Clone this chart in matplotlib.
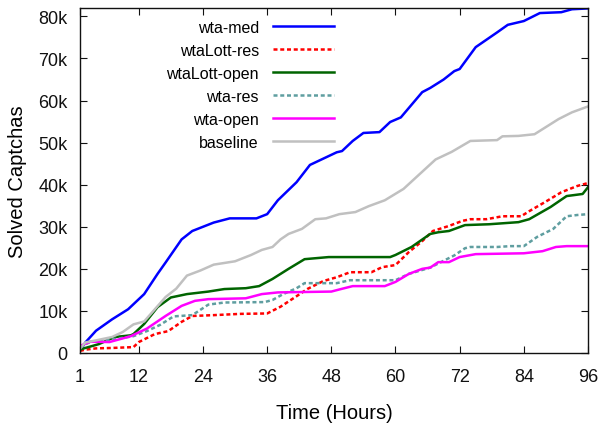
import matplotlib
matplotlib.use("Agg")
import matplotlib.pyplot as plt
from matplotlib.ticker import FuncFormatter

plt.rcParams["font.family"] = ["Liberation Sans", "DejaVu Sans"]

# Cumulative solved captchas (thousands) per strategy, sampled at hour marks
wta_med_h = [1, 2, 4, 7, 10, 13, 15.5, 17, 20, 22, 26, 29, 34, 36, 38, 41.5, 44, 45.5,
             49, 50, 52, 54, 57, 59, 61, 65, 66.5, 69, 71, 72, 75, 79, 81, 84, 87, 91, 93, 96]
wta_med_k = [0.5, 2.5, 5.3, 8.0, 10.4, 14.0, 18.8, 21.5, 27.0, 29.0, 31.0, 32.0, 32.0, 33.0,
             36.3, 40.6, 44.7, 45.6, 47.7, 48.0, 50.4, 52.3, 52.5, 54.9, 56.0, 62.0, 63.0,
             65.0, 67.0, 67.5, 72.7, 76.2, 78.0, 78.9, 80.8, 81.0, 81.7, 81.9]

wtalott_res_h = [1, 2, 4, 7, 11, 12, 15, 17.5, 20, 22, 26, 31, 36, 38.5, 41.5, 43.5, 46.5,
                 49, 51.5, 55.5, 57.5, 60, 62.5, 65, 67, 70, 72.5, 74, 77, 80, 83.5, 85,
                 88, 91, 94, 96]
wtalott_res_k = [0.5, 0.8, 1.1, 1.2, 1.4, 2.6, 4.5, 5.2, 7.4, 8.8, 9.0, 9.3, 9.4, 11.0,
                 13.5, 15.2, 17.1, 18.0, 19.2, 19.2, 20.4, 20.9, 24.0, 26.6, 29.0, 30.2,
                 31.4, 31.8, 31.8, 32.5, 32.5, 33.7, 35.9, 38.2, 39.7, 40.4]

wtalott_open_h = [1, 2, 4.5, 7.5, 10.5, 11, 13, 15.5, 18, 21, 25, 28, 32, 34.5, 37, 40,
                  43, 47.5, 59, 60, 63, 66.5, 68, 70, 73, 77.5, 83, 85, 89, 92, 95, 96]
wtalott_open_k = [0.8, 1.2, 2.1, 3.8, 4.2, 4.5, 6.9, 10.9, 13.2, 14.0, 14.6, 15.2, 15.4,
                  15.9, 17.6, 20.0, 22.3, 22.8, 22.8, 23.3, 25.2, 28.3, 28.7, 29.0, 30.4,
                  30.6, 31.1, 31.8, 34.7, 37.3, 37.8, 39.4]

wta_res_h = [1, 3, 6, 9, 11, 13.5, 16, 18.5, 22, 25, 28, 35.5, 37, 39, 41.5, 43, 49, 51.5,
             60, 62.5, 66.5, 68.5, 71, 73, 74, 79, 81.5, 84, 86.5, 89.5, 92, 94, 96]
wta_res_k = [1.4, 2.7, 3.0, 3.6, 4.0, 5.2, 6.7, 8.7, 9.0, 11.5, 12.0, 12.1, 12.6, 14.0,
             15.4, 16.6, 16.6, 17.3, 17.3, 18.8, 20.3, 21.6, 23.2, 24.9, 25.2, 25.2, 25.4,
             25.4, 27.6, 29.5, 32.5, 32.8, 33.0]

wta_open_h = [1, 3, 6.5, 10.5, 13.5, 17, 20, 22.5, 25, 32, 35, 38, 48, 49.5, 52, 58, 60,
              62.5, 65, 66.5, 68, 70, 72, 75, 84, 87.5, 90, 92, 96]
wta_open_k = [1.7, 2.7, 2.6, 4.0, 5.8, 8.8, 11.2, 12.4, 12.8, 13.0, 14.0, 14.4, 14.6, 15.1,
              15.9, 15.9, 16.9, 18.8, 20.0, 20.3, 21.6, 21.6, 22.8, 23.5, 23.7, 24.2, 25.2,
              25.4, 25.4]

baseline_h = [1, 2, 4, 7, 9, 11, 13, 15, 17, 19, 21, 23.5, 26, 30, 33, 35, 37, 38.5, 40,
              42.5, 45, 47, 49.5, 52.5, 55, 58, 61.5, 64.5, 67.5, 70.5, 74, 79, 80, 83, 86,
              88.5, 90.5, 93, 96]
baseline_k = [1.0, 2.5, 3.0, 3.8, 5.0, 6.8, 7.5, 10.4, 13.3, 15.3, 18.4, 19.6, 21.0, 21.8,
              23.3, 24.5, 25.2, 27.0, 28.3, 29.5, 31.8, 32.0, 33.0, 33.5, 34.9, 36.3, 39.0,
              42.5, 46.0, 47.8, 50.4, 50.6, 51.5, 51.6, 52.0, 54.0, 55.6, 57.2, 58.6]

x_ticks = [1, 12, 24, 36, 48, 60, 72, 84, 96]
y_ticks = [0, 10000, 20000, 30000, 40000, 50000, 60000, 70000, 80000]

series = [
    ("wta-med", wta_med_h, wta_med_k, "#0000ff", "-"),
    ("wtaLott-res", wtalott_res_h, wtalott_res_k, "#ff0000", (0, (1.6, 1.1))),
    ("wtaLott-open", wtalott_open_h, wtalott_open_k, "#006400", "-"),
    ("wta-res", wta_res_h, wta_res_k, "#5f9ea0", (0, (1.6, 1.1))),
    ("wta-open", wta_open_h, wta_open_k, "#ff00ff", "-"),
    ("baseline", baseline_h, baseline_k, "#c0c0c0", "-"),
]

fig = plt.figure(figsize=(6.0, 4.27), dpi=100)
ax = fig.add_axes([80 / 600, 73 / 427, 508 / 600, 345 / 427])

for label, hours, vals, color, ls in series:
    ax.plot(hours, [v * 1000 for v in vals], color=color, linestyle=ls,
            linewidth=1.8, label=label)

ax.set_xlim(1, 96)
ax.set_ylim(0, 82000)
ax.set_xticks(x_ticks)
ax.set_yticks(y_ticks)
ax.yaxis.set_major_formatter(FuncFormatter(lambda v, p: "0" if v == 0 else f"{int(v / 1000)}k"))

ax.tick_params(direction="in", top=True, right=True, length=5, width=0.8,
               labelsize=13, colors="#111111")
ax.tick_params(axis="x", pad=11)
ax.tick_params(axis="y", pad=9)
for sp in ax.spines.values():
    sp.set_linewidth(1.0)
    sp.set_color("#111111")

ax.set_xlabel("Time (Hours)", fontsize=14.5, labelpad=13)
ax.set_ylabel("Solved Captchas", fontsize=14.5, labelpad=8)

ax.legend(loc="upper right", bbox_to_anchor=(0.5, 0.965), frameon=False,
          markerfirst=False, fontsize=11.5, handlelength=3.8, handletextpad=0.9,
          labelspacing=0.5, borderpad=0, borderaxespad=0)

fig.savefig("out.png", dpi=100)
